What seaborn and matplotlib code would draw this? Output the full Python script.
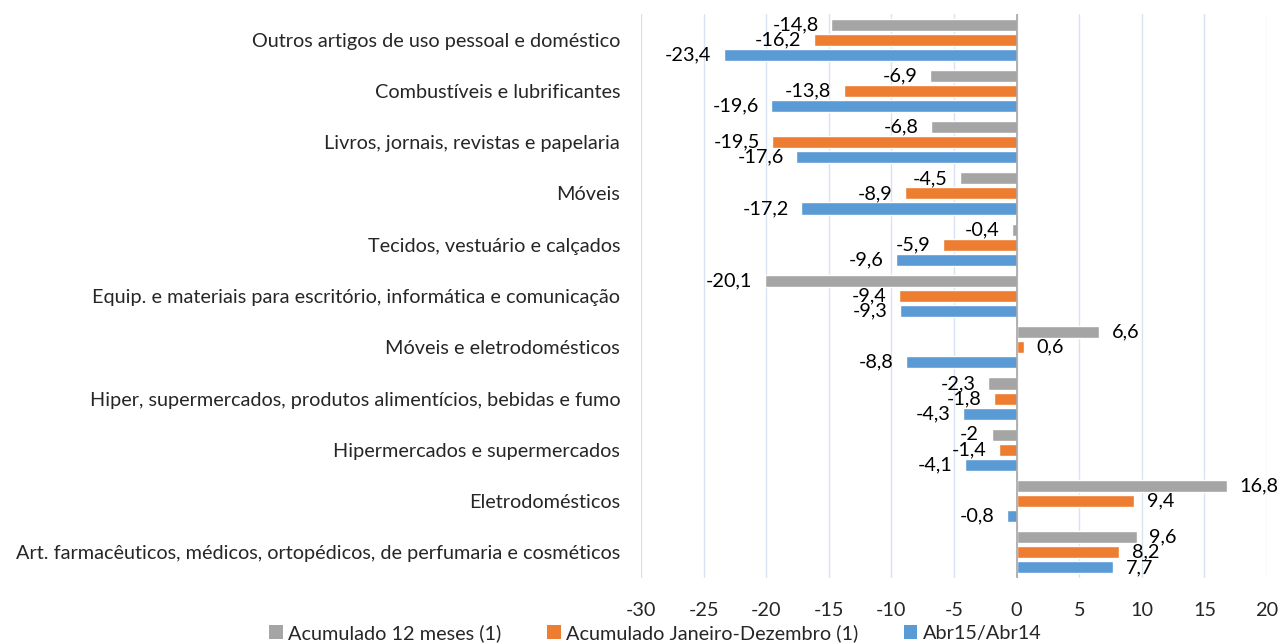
import matplotlib
matplotlib.use("Agg")
import matplotlib.pyplot as plt
import seaborn as sns
import pandas as pd
from matplotlib.patches import Patch

categories = [
    "Outros artigos de uso pessoal e doméstico",
    "Combustíveis e lubrificantes",
    "Livros, jornais, revistas e papelaria",
    "Móveis",
    "Tecidos, vestuário e calçados",
    "Equip. e materiais para escritório, informática e comunicação",
    "Móveis e eletrodomésticos",
    "Hiper, supermercados, produtos alimentícios, bebidas e fumo",
    "Hipermercados e supermercados",
    "Eletrodomésticos",
    "Art. farmacêuticos, médicos, ortopédicos, de perfumaria e cosméticos",
]
series_names = ["Acumulado 12 meses (1)", "Acumulado Janeiro-Dezembro (1)", "Abr15/Abr14"]
acum_12m = [-14.8, -6.9, -6.8, -4.5, -0.4, -20.1, 6.6, -2.3, -2.0, 16.8, 9.6]
acum_jan_dez = [-16.2, -13.8, -19.5, -8.9, -5.9, -9.4, 0.6, -1.8, -1.4, 9.4, 8.2]
abr15_abr14 = [-23.4, -19.6, -17.6, -17.2, -9.6, -9.3, -8.8, -4.3, -4.1, -0.8, 7.7]
xticks = list(range(-30, 21, 5))
colors = ["#A5A5A5", "#ED7D31", "#5B9BD5"]

rows = []
for name, vals in zip(series_names, [acum_12m, acum_jan_dez, abr15_abr14]):
    for c, v in zip(categories, vals):
        rows.append({"cat": c, "value": v, "series": name})
df = pd.DataFrame(rows)

sns.set_style("white")
plt.rcParams["font.family"] = ["Lato", "DejaVu Sans"]
FS = 14.3

fig = plt.figure(figsize=(12.82, 6.43), dpi=100)
ax = fig.add_axes([641 / 1282, 1 - 578 / 643, (1267 - 641) / 1282, (578 - 14) / 643])

sns.barplot(data=df, y="cat", x="value", hue="series", order=categories,
            hue_order=series_names, palette=colors, orient="h",
            width=0.88, gap=0.2, ax=ax, legend=False, saturation=1)

for cont, vals in zip(ax.containers, [acum_12m, acum_jan_dez, abr15_abr14]):
    labels = [f"{v:g}".replace(".", ",") for v in vals]
    ax.bar_label(cont, labels=labels, padding=9, fontsize=FS, color="#000000")

ax.set_xlim(-30, 20)
ax.set_xticks(xticks)
ax.set_xticklabels([str(t) for t in xticks], fontsize=FS)
ax.tick_params(axis="x", length=0, pad=17)
ax.tick_params(axis="y", length=0, pad=15, labelsize=FS)
ax.set_xlabel("")
ax.set_ylabel("")
ax.xaxis.grid(True, color="#D9E1F2", linewidth=1)
ax.set_axisbelow(True)
for s in ax.spines.values():
    s.set_visible(False)
ax.axvline(0, color="#A6A6A6", linewidth=1.2, zorder=3)

handles = [Patch(facecolor=c, edgecolor="none") for c in colors]
fig.legend(handles, series_names, loc="lower center", bbox_to_anchor=(0.511, -0.026),
           ncol=3, frameon=False, fontsize=FS, handlelength=0.7, handleheight=0.7,
           handletextpad=0.25, columnspacing=2.3)

fig.savefig("out.png", dpi=100)
